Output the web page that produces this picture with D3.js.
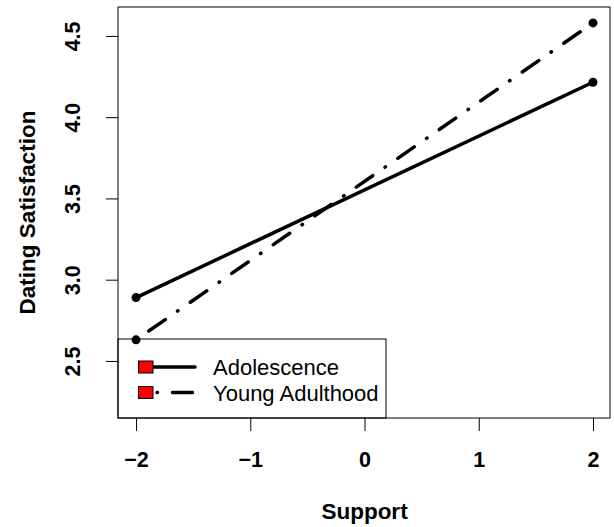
<!DOCTYPE html>
<html>
<head>
<meta charset="utf-8">
<script src="https://cdn.jsdelivr.net/npm/d3@7"></script>
<style>
  body { margin: 0; background: #fff; }
  svg { font-family: "Liberation Sans", Arial, sans-serif; }
</style>
</head>
<body>
<svg width="614" height="527"></svg>
<script>
// support levels on the x axis
const SUPPORT = [-2, 2];
const ADOLESCENCE = [2.89, 4.215];
const YOUNG_ADULTHOOD = [2.63, 4.58];
const SERIES_NAMES = ['Adolescence', 'Young Adulthood'];
const X_TICKS = [-2, -1, 0, 1, 2];
const Y_TICKS = [2.5, 3.0, 3.5, 4.0, 4.5];

const BOX = { left: 118, right: 610, top: 7, bottom: 418 };
const DOTDASH = '0.5 15 20 15';

const x = d3.scaleLinear()
    .domain([-2.158, 2.149])
    .range([BOX.left, BOX.right]);
const y = d3.scaleLinear()
    .domain([2.149, 4.678])
    .range([BOX.bottom, BOX.top]);

const svg = d3.select('svg');

// axes
const xAxis = svg.append('g')
    .attr('transform', `translate(0,${BOX.bottom})`)
    .call(d3.axisBottom(x).tickValues(X_TICKS).tickSize(13).tickPadding(0).tickFormat(d3.format('d')));
xAxis.select('.domain').remove();
xAxis.selectAll('line').attr('stroke', '#000').attr('stroke-width', 1);
xAxis.selectAll('text')
    .attr('y', 49).attr('dy', null)
    .attr('fill', '#000')
    .style('font-size', '21.5px').style('font-weight', 'bold')
    .style('font-family', '"Liberation Sans", Arial, sans-serif');

const yAxis = svg.append('g')
    .attr('transform', `translate(${BOX.left},0)`)
    .call(d3.axisLeft(y).tickValues(Y_TICKS).tickSize(12).tickFormat(d3.format('.1f')));
yAxis.select('.domain').remove();
yAxis.selectAll('line').attr('stroke', '#000').attr('stroke-width', 1);
yAxis.selectAll('text')
    .attr('x', null).attr('dy', null)
    .attr('text-anchor', 'middle')
    .attr('transform', 'translate(-38,0) rotate(-90)')
    .attr('fill', '#000')
    .style('font-size', '21.5px').style('font-weight', 'bold')
    .style('font-family', '"Liberation Sans", Arial, sans-serif');

// box
svg.append('rect')
    .attr('x', BOX.left).attr('y', BOX.top)
    .attr('width', BOX.right - BOX.left).attr('height', BOX.bottom - BOX.top)
    .attr('fill', 'none').attr('stroke', '#000').attr('stroke-width', 1);

// titles
svg.append('text')
    .attr('x', x(0)).attr('y', 519)
    .attr('text-anchor', 'middle')
    .style('font-size', '22.5px').style('font-weight', 'bold')
    .text('Support');
svg.append('text')
    .attr('transform', `translate(35,${(BOX.top + BOX.bottom) / 2}) rotate(-90)`)
    .attr('text-anchor', 'middle')
    .style('font-size', '22.5px').style('font-weight', 'bold')
    .text('Dating Satisfaction');

// legend
const legend = svg.append('g');
legend.append('rect')
    .attr('x', BOX.left).attr('y', 339)
    .attr('width', 268).attr('height', BOX.bottom - 339)
    .attr('fill', 'none').attr('stroke', '#000').attr('stroke-width', 1);
const legendRows = [367, 392.5];
SERIES_NAMES.forEach((name, i) => {
    const ly = legendRows[i];
    legend.append('line')
        .attr('x1', i === 0 ? 146 : 157).attr('x2', 195)
        .attr('y1', ly).attr('y2', ly)
        .attr('stroke', '#000').attr('stroke-width', 3.5)
        .attr('stroke-linecap', 'round')
        .attr('stroke-dasharray', i === 0 ? null : DOTDASH);
    legend.append('rect')
        .attr('x', 138.5).attr('y', ly - 6)
        .attr('width', 14.5).attr('height', 12)
        .attr('fill', '#ff0000').attr('stroke', '#000').attr('stroke-width', 1);
    legend.append('text')
        .attr('x', 213).attr('y', ly + 8)
        .style('font-size', '22px')
        .text(name);
});

// lines
const series = [
    { values: ADOLESCENCE, dash: null },
    { values: YOUNG_ADULTHOOD, dash: DOTDASH }
];
const line = d3.line().x(d => x(d[0])).y(d => y(d[1]));
series.forEach(s => {
    const pts = SUPPORT.map((v, i) => [v, s.values[i]]);
    svg.append('path')
        .attr('d', line(pts))
        .attr('fill', 'none').attr('stroke', '#000')
        .attr('stroke-width', 3.5)
        .attr('stroke-linecap', 'round')
        .attr('stroke-dasharray', s.dash);
    svg.selectAll(null)
        .data(pts)
        .enter()
        .append('circle')
        .attr('cx', d => x(d[0]))
        .attr('cy', d => y(d[1]))
        .attr('r', 4.5)
        .attr('fill', '#000');
});
</script>
</body>
</html>
